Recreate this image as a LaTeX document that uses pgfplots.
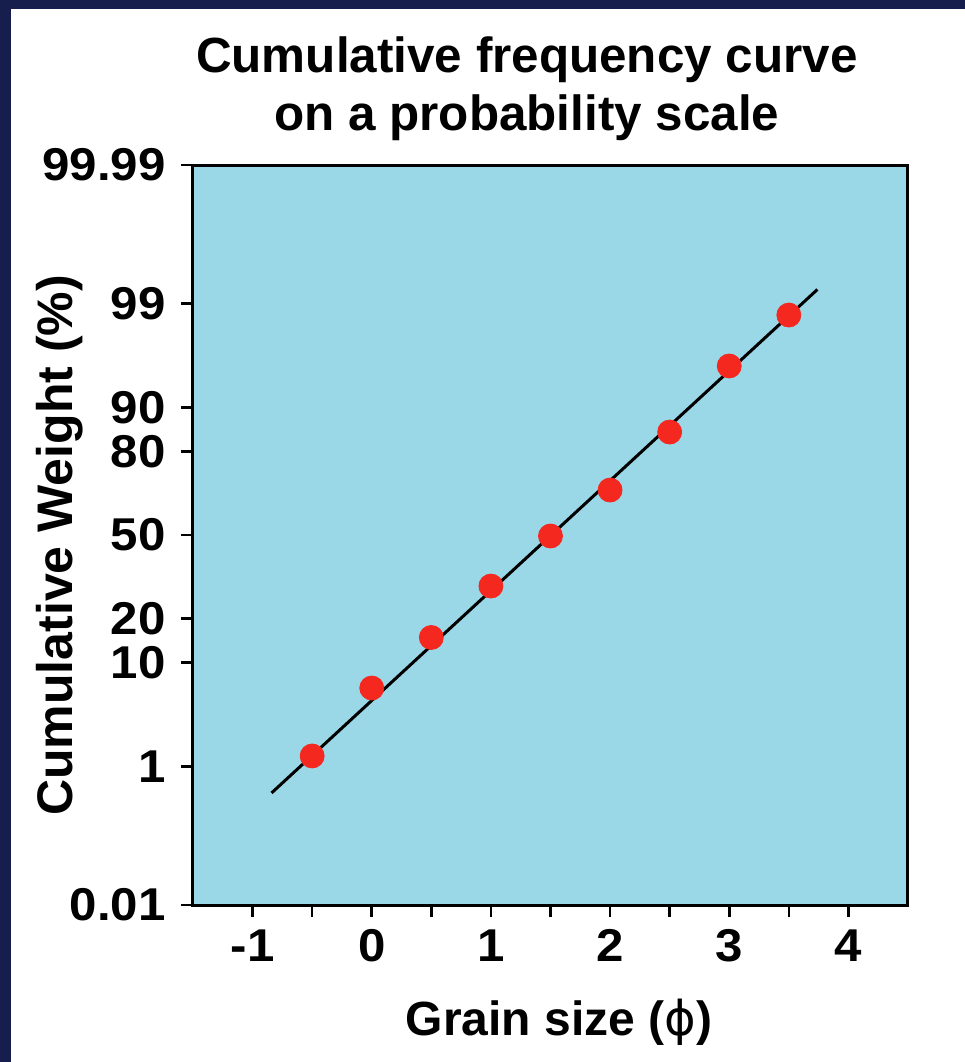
\documentclass[border=0pt]{standalone}
\usepackage{fontspec}
\setmainfont{Liberation Sans}
\newfontfamily\tickfont{Liberation Sans}[FakeStretch=1.07]
\newfontfamily\dejavu{DejaVu Sans}
\usepackage{pgfplots}
\pgfplotsset{compat=1.18}
\definecolor{navy}{RGB}{22,30,78}
\definecolor{plotblue}{RGB}{154,216,232}
\definecolor{dotred}{RGB}{245,40,32}
\begin{document}
\begin{tikzpicture}[x=1pt,y=1pt]
\fill[navy] (0,0) rectangle (482.5,531);
\fill[white] (5.5,0) rectangle (482.5,526.5);
\begin{axis}[
  at={(96.5pt,78.5pt)}, anchor=south west,
  scale only axis, width=357.5pt, height=370pt,
  xmin=-1.5, xmax=4.5, ymin=-3.719, ymax=3.719,
  axis background/.style={fill=plotblue},
  axis line style={line width=1.5pt, black},
  tick align=outside, xtick pos=lower, ytick pos=left,
  major tick length=6pt,
  tick style={line width=1.3pt, black},
  xtick={-1,-0.5,0,0.5,1,1.5,2,2.5,3,3.5,4},
  xticklabels={-1,,0,,1,,2,,3,,4},
  ytick={-3.719,-2.326,-1.2816,-0.8416,0,0.8416,1.2816,2.326,3.719},
  yticklabels={0.01,1,10,20,50,80,90,99,99.99},
  ticklabel style={font=\tickfont\bfseries\fontsize{23}{23}\selectfont},
  xticklabel style={anchor=north, inner sep=0pt, yshift=-6pt},
  yticklabel style={anchor=east, inner sep=0pt, xshift=-7.5pt},
  title={Cumulative frequency curve\\on a probability scale},
  title style={align=center, font=\bfseries\fontsize{24.7}{29}\selectfont,
    at={(axis description cs:0.467,1)}, anchor=south, inner sep=0pt, yshift=6pt},
  xlabel={Grain size ({\dejavu\mdseries ϕ})},
  xlabel style={font=\bfseries\fontsize{24}{24}\selectfont,
    at={(axis description cs:0.512,0)}, anchor=base, inner sep=0pt, yshift=-65pt},
  ylabel={Cumulative Weight (\%)},
  ylabel style={font=\bfseries\fontsize{25}{25}\selectfont,
    at={(axis description cs:-0.1692,0.486)}, anchor=base, inner sep=0pt},
]
\addplot[black, line width=1.5pt] coordinates {(-0.841,-2.593) (3.740,2.468)};
\addplot[only marks, mark=*, mark size=6pt, mark options={fill=dotred, draw=dotred}]
  coordinates {
  (-0.5,-2.221) (0,-1.538) (0.5,-1.030) (1,-0.513) (1.5,-0.010)
  (2,0.452) (2.5,1.035) (3,1.699) (3.5,2.211)
  };
\end{axis}
\end{tikzpicture}
\end{document}
